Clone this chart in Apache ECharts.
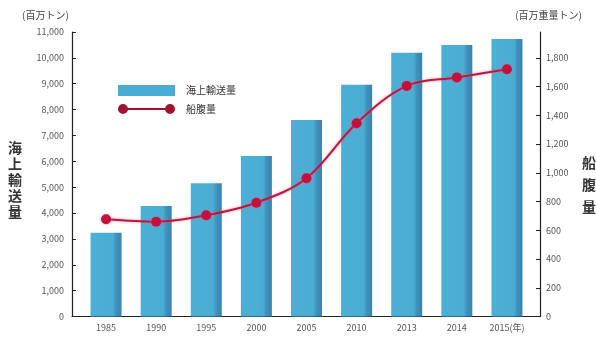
<!DOCTYPE html>
<html>
<head>
<meta charset="utf-8">
<script src="https://cdn.jsdelivr.net/npm/echarts@6/dist/echarts.min.js"></script>
<style>
  html, body { margin: 0; padding: 0; background: #fff; }
  #chart { width: 596px; height: 337px; }
</style>
</head>
<body>
<div id="chart"></div>
<script>
// 年次
const years = ['1985', '1990', '1995', '2000', '2005', '2010', '2013', '2014', '2015(年)'];
// 海上輸送量（百万トン）
const seaborneTrade = [3240, 4270, 5150, 6210, 7600, 8960, 10200, 10500, 10730];
// 船腹量（百万重量トン）
const fleetTonnage = [677, 660, 705, 792, 962, 1345, 1605, 1664, 1721];
// 目盛り
const leftMax = 11000, leftStep = 1000;
const rightMax = 1980, rightStep = 200;

const FONT = '"Noto Sans CJK JP", "Noto Sans", sans-serif';
const fmt = v => Math.round(v).toLocaleString('en-US');

const chart = echarts.init(document.getElementById('chart'), null, { renderer: 'canvas' });

const gridTop = 32, gridBottom = 20.5;

chart.setOption({
  animation: false,
  textStyle: { fontFamily: FONT },
  grid: [
    // frame with the visible axes
    { left: 72, right: 56, top: gridTop, bottom: gridBottom },
    // plotting area for the bars and the line
    { left: 81, right: 64, top: gridTop, bottom: gridBottom }
  ],
  legend: {
    orient: 'vertical',
    left: 113, top: 80,
    itemWidth: 57, itemHeight: 11, itemGap: 8,
    textStyle: { fontFamily: FONT, fontSize: 10, color: '#333', padding: [0, 0, 0, 6] },
    data: [
      { name: '海上輸送量', icon: 'rect', itemStyle: { color: '#4aacd2' } },
      { name: '船腹量',
        icon: 'path://M0,5A5,5,0,1,1,10,5A5,5,0,1,1,0,5Z M8,4H49V6H8Z M47,5A5,5,0,1,1,57,5A5,5,0,1,1,47,5Z',
        itemStyle: { color: '#a0142e' } }
    ]
  },
  xAxis: [
    { gridIndex: 0, type: 'value', min: 0, max: 1,
      axisLine: { show: true, lineStyle: { color: '#222', width: 1.2 } },
      axisTick: { show: false }, axisLabel: { show: false }, splitLine: { show: false } },
    { gridIndex: 1, type: 'category', data: years,
      axisLine: { show: false }, axisTick: { show: false }, splitLine: { show: false },
      axisLabel: { margin: 7, fontSize: 9, color: '#555', fontFamily: FONT } }
  ],
  yAxis: [
    { gridIndex: 0, type: 'value', position: 'left', min: 0, max: leftMax, interval: leftStep,
      axisLine: { show: true, lineStyle: { color: '#222', width: 1.2 } },
      axisTick: { show: true, inside: true, length: 4, lineStyle: { color: '#222' } },
      axisLabel: { formatter: fmt, fontSize: 9, color: '#555', margin: 8 },
      splitLine: { show: false } },
    { gridIndex: 0, type: 'value', position: 'right', min: 0, max: rightMax, interval: rightStep,
      axisLine: { show: true, lineStyle: { color: '#222', width: 1.2 } },
      axisTick: { show: true, inside: true, length: 4, lineStyle: { color: '#222' } },
      axisLabel: { formatter: fmt, fontSize: 9, color: '#555', margin: 6, showMaxLabel: false },
      splitLine: { show: false } },
    { gridIndex: 1, type: 'value', min: 0, max: leftMax, show: false, splitLine: { show: false } },
    { gridIndex: 1, type: 'value', min: 0, max: rightMax, show: false, splitLine: { show: false } }
  ],
  series: [
    { name: '海上輸送量', type: 'bar', xAxisIndex: 1, yAxisIndex: 2, data: seaborneTrade,
      barWidth: 31,
      itemStyle: {
        color: new echarts.graphic.LinearGradient(0, 0, 1, 0, [
          { offset: 0, color: '#4cb0d6' },
          { offset: 0.72, color: '#4aaed4' },
          { offset: 0.82, color: '#3f93bd' },
          { offset: 1, color: '#3a82ad' }
        ])
      } },
    { name: '船腹量', type: 'line', xAxisIndex: 1, yAxisIndex: 3, data: fleetTonnage,
      smooth: 0.35, symbol: 'circle', symbolSize: 10, z: 5,
      lineStyle: { color: '#b8193f', width: 2, shadowColor: 'rgba(240,90,130,0.7)', shadowBlur: 3 },
      itemStyle: { color: '#c4103c', shadowColor: 'rgba(240,90,130,0.6)', shadowBlur: 3 } }
  ],
  graphic: [
    { type: 'text', left: 22, top: 10,
      style: { text: '(百万トン)', font: '10px ' + FONT, fill: '#444' } },
    { type: 'text', right: 14, top: 10,
      style: { text: '(百万重量トン)', font: '10px ' + FONT, fill: '#444' } },
    { type: 'text', left: 8, top: 140,
      style: { text: '海\n上\n輸\n送\n量', font: 'bold 14px ' + FONT, fill: '#333', lineHeight: 16 } },
    { type: 'text', left: 582, top: 152,
      style: { text: '船\n腹\n量', font: 'bold 14px ' + FONT, fill: '#333', lineHeight: 22 } }
  ]
});
</script>
</body>
</html>
